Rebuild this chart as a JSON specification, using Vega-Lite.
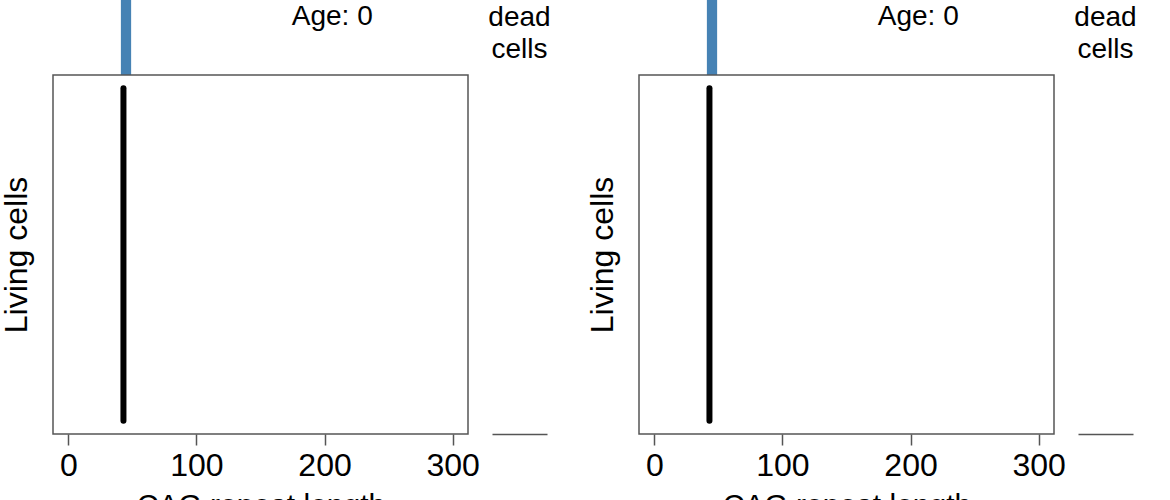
{
  "$schema": "https://vega.github.io/schema/vega-lite/v6.json",
  "padding": {"left": -1, "top": 0, "right": 0, "bottom": 0},
  "background": "white",
  "config": {"font": "Liberation Sans", "view": {"stroke": null}},
  "datasets": {
    "living": [{"cag": 43, "first_cell": 1, "last_cell": 100}],
    "hist": [{"bin_start": 41, "bin_end": 49, "count": 100}],
    "dead": [{"group": "dead cells", "count": 0}],
    "age": [{"label": "Age: 0"}],
    "deadlabel": [{"group": "dead cells", "label": "dead cells"}]
  },
  "bounds": "flush",
  "columns": 4,
  "spacing": {"row": 0, "column": 24},
  "concat": [
    {
      "width": 415,
      "height": 75,
      "layer": [
        {
          "data": {"name": "hist"},
          "mark": {"type": "rect", "color": "#4682b4", "clip": true},
          "encoding": {
            "x": {"field": "bin_start", "type": "quantitative", "scale": {"domain": [-12, 312], "nice": false, "zero": false}, "axis": null},
            "x2": {"field": "bin_end"},
            "y": {"field": "count", "type": "quantitative", "scale": {"domain": [0, 20], "nice": false}, "axis": null},
            "y2": {"datum": 0}
          }
        },
        {
          "data": {"name": "age"},
          "mark": {"type": "text", "fontSize": 28, "baseline": "middle", "align": "center", "color": "black"},
          "encoding": {"text": {"field": "label"}, "x": {"datum": 206}, "y": {"datum": 15.5}}
        }
      ]
    },
    {
      "width": 123,
      "height": 75,
      "data": {"name": "deadlabel"},
      "mark": {"type": "text", "fontSize": 28, "lineBreak": " ", "lineHeight": 32, "baseline": "middle", "align": "center", "dy": -19.5, "color": "black"},
      "encoding": {
        "text": {"field": "label"},
        "x": {"field": "group", "type": "nominal", "scale": {"range": [0, 55]}, "axis": null}
      }
    },
    {
      "width": 415,
      "height": 75,
      "layer": [
        {
          "data": {"name": "hist"},
          "mark": {"type": "rect", "color": "#4682b4", "clip": true},
          "encoding": {
            "x": {"field": "bin_start", "type": "quantitative", "scale": {"domain": [-12, 312], "nice": false, "zero": false}, "axis": null},
            "x2": {"field": "bin_end"},
            "y": {"field": "count", "type": "quantitative", "scale": {"domain": [0, 20], "nice": false}, "axis": null},
            "y2": {"datum": 0}
          }
        },
        {
          "data": {"name": "age"},
          "mark": {"type": "text", "fontSize": 28, "baseline": "middle", "align": "center", "color": "black"},
          "encoding": {"text": {"field": "label"}, "x": {"datum": 206}, "y": {"datum": 15.5}}
        }
      ]
    },
    {
      "width": 55,
      "height": 75,
      "data": {"name": "deadlabel"},
      "mark": {"type": "text", "fontSize": 28, "lineBreak": " ", "lineHeight": 32, "baseline": "middle", "align": "center", "dy": -19.5, "color": "black"},
      "encoding": {
        "text": {"field": "label"},
        "x": {"field": "group", "type": "nominal", "scale": {"range": [0, 55]}, "axis": null}
      }
    },
    {
      "width": 415,
      "height": 359,
      "view": {"stroke": "#555", "strokeWidth": 1.5},
      "data": {"name": "living"},
      "mark": {"type": "rule", "color": "black", "strokeWidth": 6, "strokeCap": "round"},
      "encoding": {
        "x": {
          "field": "cag", "type": "quantitative",
          "scale": {"domain": [-12, 312], "nice": false, "zero": false},
          "axis": {"values": [0, 100, 200, 300], "domain": false, "grid": false, "tickSize": 11, "tickWidth": 1.5, "tickColor": "#555", "labelFontSize": 32, "labelColor": "black", "labelPadding": 5, "labelFlush": false, "labelOverlap": false, "title": "CAG repeat length", "titleFontSize": 30, "titleFontWeight": "normal", "titleColor": "black", "titlePadding": 9}
        },
        "y": {
          "field": "first_cell", "type": "quantitative",
          "scale": {"domain": [-2.96, 103.96], "nice": false, "zero": false},
          "axis": {"labels": false, "ticks": false, "domain": false, "grid": false, "title": "Living cells", "titleFontSize": 32, "titleFontWeight": "normal", "titleColor": "black", "titlePadding": 20}
        },
        "y2": {"field": "last_cell"}
      }
    },
    {
      "width": 123,
      "height": 359,
      "data": {"name": "dead"},
      "mark": {"type": "bar", "color": "#4682b4"},
      "encoding": {
        "x": {"field": "group", "type": "nominal", "scale": {"range": [0, 55]}, "axis": {"domain": true, "domainColor": "#555", "domainWidth": 1.5, "labels": false, "ticks": false, "grid": false, "title": null}},
        "y": {"field": "count", "type": "quantitative", "scale": {"domain": [0, 100]}, "axis": null}
      }
    },
    {
      "width": 415,
      "height": 359,
      "view": {"stroke": "#555", "strokeWidth": 1.5},
      "data": {"name": "living"},
      "mark": {"type": "rule", "color": "black", "strokeWidth": 6, "strokeCap": "round"},
      "encoding": {
        "x": {
          "field": "cag", "type": "quantitative",
          "scale": {"domain": [-12, 312], "nice": false, "zero": false},
          "axis": {"values": [0, 100, 200, 300], "domain": false, "grid": false, "tickSize": 11, "tickWidth": 1.5, "tickColor": "#555", "labelFontSize": 32, "labelColor": "black", "labelPadding": 5, "labelFlush": false, "labelOverlap": false, "title": "CAG repeat length", "titleFontSize": 30, "titleFontWeight": "normal", "titleColor": "black", "titlePadding": 9}
        },
        "y": {
          "field": "first_cell", "type": "quantitative",
          "scale": {"domain": [-2.96, 103.96], "nice": false, "zero": false},
          "axis": {"labels": false, "ticks": false, "domain": false, "grid": false, "title": "Living cells", "titleFontSize": 32, "titleFontWeight": "normal", "titleColor": "black", "titlePadding": 20}
        },
        "y2": {"field": "last_cell"}
      }
    },
    {
      "width": 55,
      "height": 359,
      "data": {"name": "dead"},
      "mark": {"type": "bar", "color": "#4682b4"},
      "encoding": {
        "x": {"field": "group", "type": "nominal", "scale": {"range": [0, 55]}, "axis": {"domain": true, "domainColor": "#555", "domainWidth": 1.5, "labels": false, "ticks": false, "grid": false, "title": null}},
        "y": {"field": "count", "type": "quantitative", "scale": {"domain": [0, 100]}, "axis": null}
      }
    }
  ]
}
